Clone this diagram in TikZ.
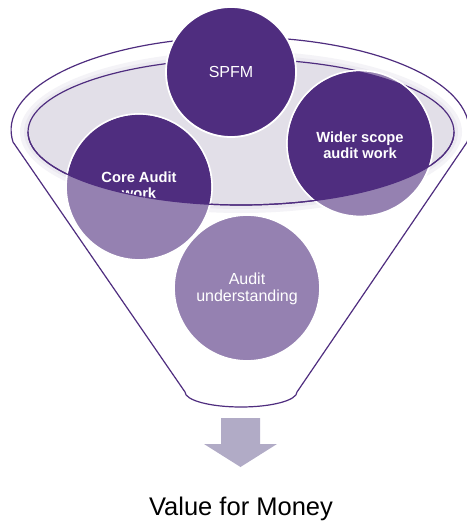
\documentclass[tikz,border=0pt]{standalone}
\usepackage{fontspec}
\setmainfont{Liberation Sans}
\definecolor{fdark}{HTML}{4F2D7F}
\definecolor{flight}{HTML}{9581B1}
\definecolor{fgrey}{HTML}{E2DFE8}
\definecolor{fglowA}{HTML}{F4F3F7}
\definecolor{fglowB}{HTML}{EBE9F0}
\definecolor{farrow}{HTML}{B1ABC6}
\tikzset{
  funnelline/.style={draw=fdark, line width=1.2pt},
  disc/.style={circle, minimum size=146pt, inner sep=0pt, draw=white, line width=1.8pt},
  lbl/.style={text=white, align=center, font=\fontsize{16}{17}\selectfont},
  lblb/.style={text=white, align=center, font=\fontsize{14.7}{16.5}\selectfont\bfseries},
  opening/.style={x radius=213, y radius=73},
}
\begin{document}
\begin{tikzpicture}[x=1pt,y=-1pt]
\useasboundingbox (0,0) rectangle (466,521);

% funnel outline: rim, sides and rounded bottom
\draw[funnelline, fill=white] (13,142)
  arc[start angle=172.6, end angle=367.4, x radius=229, y radius=93]
  -- (297,392)
  arc[start angle=0, end angle=180, x radius=56, y radius=15]
  -- cycle;

% soft halo and the inner opening of the funnel
\fill[fglowA] (241,132) ellipse[x radius=221, y radius=81];
\fill[fglowB] (241,132) ellipse[x radius=217, y radius=77];
\fill[fgrey] (241,132) ellipse[opening];
\draw[funnelline] (241,132) ellipse[opening];

% the four discs
\node[disc, fill=flight] (core) at (139,187) {};
\node[disc, fill=flight] (wider) at (360,143.5) {};
\node[disc, fill=fdark, minimum size=130pt] (spfm) at (231,72) {};
\node[disc, fill=flight] (und) at (247,288) {};

% parts of the discs lying inside the opening stay dark
\begin{scope}
  \clip (241,132) ellipse[opening];
  \fill[fdark] (core.center) circle[radius=72.1];
  \fill[fdark] (wider.center) circle[radius=72.1];
  \node[lblb] (coret) at (139,185) {Core Audit\\work};
\end{scope}

% front edge of the opening, over the discs
\draw[funnelline] (454,132)
  arc[start angle=0, end angle=180, opening];

% disc labels
\node[lbl] (spfmt) at (spfm.center) {SPFM};
\node[lblb] (widert) at (360,145) {Wider scope\\audit work};
\node[lbl] (undt) at (247,288.5) {Audit\\understanding};

% output arrow
\fill[farrow] (221,418) -- (260,418) -- (260,444) -- (277,444)
  -- (240.5,467) -- (204,444) -- (221,444) -- cycle;

\node[anchor=base, font=\fontsize{25.5}{28}\selectfont] (vfm) at (241,515) {Value for Money};
\end{tikzpicture}
\end{document}
